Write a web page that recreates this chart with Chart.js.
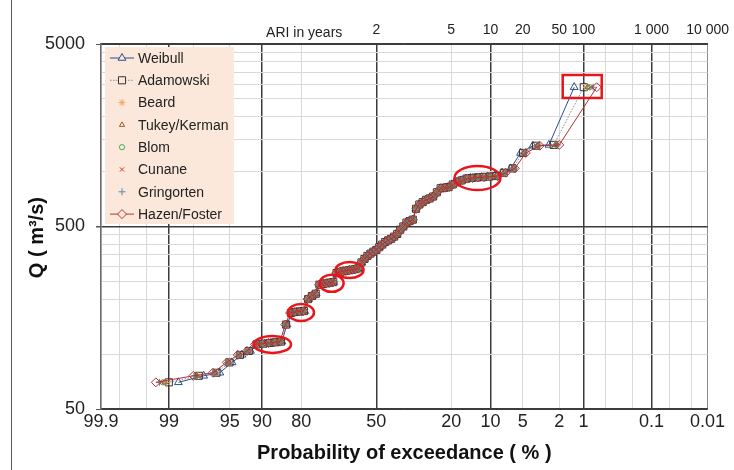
<!DOCTYPE html>
<html>
<head>
<meta charset="utf-8">
<script src="https://cdn.jsdelivr.net/npm/chart.js@4.4.1/dist/chart.umd.min.js"></script>
<style>
  html, body { margin: 0; padding: 0; background: #fff; }
  #wrap { width: 734px; height: 470px; }
</style>
</head>
<body>
<div id="wrap"><canvas id="chart" width="734" height="470"></canvas></div>
<script>
// Flood frequency plot: ranked annual peaks vs plotting position (normal probability paper)
const methodNames = ['Weibull', 'Adamowski', 'Beard', 'Tukey/Kerman', 'Blom', 'Cunane', 'Gringorten', 'Hazen/Foster'];
const plottingConst = [0, 0.25, 0.31, 1 / 3, 0.375, 0.4, 0.44, 0.5];

// ranked peak flows, largest first (m3/s)
const flowQ = [2900, 1400, 1385, 1265, 1040, 985, 945, 938, 932, 928,
               922, 915, 895, 877, 850, 822, 815, 810, 770, 730,
               712, 700, 680, 660, 625, 545, 535, 525, 500, 480,
               455, 440, 428, 420, 411, 398, 385, 372, 364, 355,
               345, 332, 318, 295, 292, 290, 288, 286, 284, 282,
               278, 248, 246, 244, 242, 240, 214, 208, 200, 172,
               171, 170, 168, 145, 117, 116, 115, 114, 113, 104,
               99, 90, 79, 76, 70];

const xGridPct = [99.9, 99.8, 99.5, 99, 98, 95, 90, 80, 50, 20, 10, 5, 2, 1, 0.5, 0.2, 0.1, 0.05, 0.02, 0.01];
const xLabelPct = [99.9, 99, 95, 90, 80, 50, 20, 10, 5, 2, 1, 0.1, 0.01];
const xMajorPct = [99, 90, 50, 10, 1, 0.1];
const ariYears = [2, 5, 10, 20, 50, 100, 1000, 10000];
const ariLabels = ['2', '5', '10', '20', '50', '100', '1 000', '10 000'];
const yGridQ = [50, 100, 150, 200, 250, 300, 350, 400, 450, 500,
                1000, 1500, 2000, 2500, 3000, 3500, 4000, 4500, 5000];
const yLabelQ = [50, 500, 5000];

// highlighted groups (exceedance %, Q)
const highlightEllipses = [
    { p: 87.8, q: 113 }, { p: 80.1, q: 169 }, { p: 69.2, q: 244 },
    { p: 61.8, q: 289 }, { p: 12.8, q: 922 }
];
const highlightBox = { p: 1.04, q: 2925 };

// --- styling ---
const ellipseRadii = [[18.5, 8.5], [13, 8.5], [12, 8.5], [14, 8], [23, 12]];
const boxHalf = [19.5, 11.5];
const darkGrid = '#3c3c3c';
const lightGrid = '#d9d9d9';
const seriesStyle = [
    { color: '#2B4C8C', point: 'triangle', r: 4.5, line: true, dash: [] },
    { color: '#333333', lineColor: '#8a8a8a', point: 'rect', r: 5, line: true, dash: [1.5, 1.5] },
    { color: '#EFA66A', point: 'star', r: 3.5 },
    { color: '#9C5B2A', point: 'triangle', r: 3 },
    { color: '#3FAE4F', point: 'circle', r: 2.6 },
    { color: '#E0302A', point: 'crossRot', r: 3 },
    { color: '#5A88A8', point: 'cross', r: 3.5 },
    { color: '#B5312C', point: 'rectRot', r: 4.5, line: true, dash: [] }
];

// inverse standard normal (Acklam)
function normInv(p) {
    const a = [-3.969683028665376e+01, 2.209460984245205e+02, -2.759285104469687e+02, 1.383577518672690e+02, -3.066479806614716e+01, 2.506628277459239e+00];
    const b = [-5.447609879822406e+01, 1.615858368580409e+02, -1.556989798598866e+02, 6.680131188771972e+01, -1.328068155288572e+01];
    const c = [-7.784894002430293e-03, -3.223964580411365e-01, -2.400758277161838e+00, -2.549732539343734e+00, 4.374664141464968e+00, 2.938163982698783e+00];
    const d = [7.784695709041462e-03, 3.224671290700398e-01, 2.445134137142996e+00, 3.754408661907416e+00];
    const pl = 0.02425;
    let q, r;
    if (p < pl) {
        q = Math.sqrt(-2 * Math.log(p));
        return (((((c[0] * q + c[1]) * q + c[2]) * q + c[3]) * q + c[4]) * q + c[5]) / ((((d[0] * q + d[1]) * q + d[2]) * q + d[3]) * q + 1);
    }
    if (p > 1 - pl) {
        q = Math.sqrt(-2 * Math.log(1 - p));
        return -(((((c[0] * q + c[1]) * q + c[2]) * q + c[3]) * q + c[4]) * q + c[5]) / ((((d[0] * q + d[1]) * q + d[2]) * q + d[3]) * q + 1);
    }
    q = p - 0.5; r = q * q;
    return (((((a[0] * r + a[1]) * r + a[2]) * r + a[3]) * r + a[4]) * r + a[5]) * q / (((((b[0] * r + b[1]) * r + b[2]) * r + b[3]) * r + b[4]) * r + 1);
}
// exceedance % -> position on probability paper (left = frequent)
const zOf = pct => normInv(1 - pct / 100);
const exceedPct = (rank, a) => (rank - a) / (flowQ.length + 1 - 2 * a) * 100;

const datasets = methodNames.map((name, m) => {
    const s = seriesStyle[m];
    return {
        label: name,
        data: flowQ.map((q, k) => ({ x: zOf(exceedPct(k + 1, plottingConst[m])), y: q })),
        order: methodNames.length - m, // later series drawn on top, like the spreadsheet
        showLine: !!s.line,
        borderColor: s.lineColor || s.color,
        borderWidth: 1,
        borderDash: s.dash || [],
        pointStyle: s.point,
        pointRadius: s.r,
        pointBorderColor: s.color,
        pointBackgroundColor: 'rgba(0,0,0,0)',
        pointBorderWidth: 1
    };
});

const overlayPlugin = {
    id: 'overlay',
    beforeDraw(chart) {
        const ctx = chart.ctx;
        ctx.save();
        ctx.fillStyle = '#fff';
        ctx.fillRect(0, 0, chart.width, chart.height);
        ctx.strokeStyle = '#555';
        ctx.lineWidth = 1;
        ctx.beginPath();
        ctx.moveTo(11.5, 0);
        ctx.lineTo(11.5, chart.height);
        ctx.stroke();
        ctx.restore();
    },
    afterDatasetsDraw(chart) {
        const ctx = chart.ctx;
        const xs = chart.scales.x, ys = chart.scales.y;
        ctx.save();
        ctx.strokeStyle = '#E8161B';
        ctx.lineWidth = 2.5;
        highlightEllipses.forEach((e, i) => {
            ctx.beginPath();
            ctx.ellipse(xs.getPixelForValue(zOf(e.p)), ys.getPixelForValue(e.q),
                ellipseRadii[i][0], ellipseRadii[i][1], 0, 0, Math.PI * 2);
            ctx.stroke();
        });
        const bx = xs.getPixelForValue(zOf(highlightBox.p));
        const by = ys.getPixelForValue(highlightBox.q);
        ctx.strokeRect(bx - boxHalf[0], by - boxHalf[1], boxHalf[0] * 2, boxHalf[1] * 2);

        // legend box inside plot
        const area = chart.chartArea;
        const lx = area.left + 4, ly = area.top + 3;
        ctx.fillStyle = '#FBE8DA';
        ctx.fillRect(lx, ly, 129, 177);
        ctx.font = '14px Arial, "Liberation Sans", sans-serif';
        ctx.textBaseline = 'middle';
        chart.data.datasets.forEach((ds, i) => {
            const y = ly + 11 + i * 22.3;
            const cx = lx + 17;
            if (ds.showLine) {
                ctx.save();
                ctx.strokeStyle = ds.borderColor;
                ctx.lineWidth = 1;
                ctx.setLineDash(ds.borderDash);
                ctx.beginPath();
                ctx.moveTo(lx + 5, y);
                ctx.lineTo(lx + 29, y);
                ctx.stroke();
                ctx.restore();
            }
            if (Chart.helpers && Chart.helpers.drawPoint) {
                ctx.save();
                ctx.strokeStyle = ds.pointBorderColor;
                ctx.fillStyle = '#FBE8DA';
                ctx.lineWidth = 1;
                Chart.helpers.drawPoint(ctx, { pointStyle: ds.pointStyle, radius: ds.pointRadius, rotation: 0, borderWidth: 1 }, cx, y);
                ctx.restore();
            }
            ctx.fillStyle = '#222';
            ctx.textAlign = 'left';
            ctx.fillText(ds.label, lx + 33, y + 1);
        });
        ctx.restore();
    },
    afterDraw(chart) {
        const ctx = chart.ctx;
        const x2 = chart.scales.x2;
        ctx.save();
        ctx.font = '14px Arial, "Liberation Sans", sans-serif';
        ctx.fillStyle = '#222';
        ctx.textAlign = 'right';
        ctx.textBaseline = 'middle';
        ctx.fillText('ARI in years', x2.getPixelForValue(zOf(100 / ariYears[0])) - 34, 33);
        ctx.restore();
    }
};

const fontFamily = 'Arial, "Liberation Sans", sans-serif';
const ctx = document.getElementById('chart').getContext('2d');
new Chart(ctx, {
    type: 'scatter',
    data: { datasets },
    options: {
        responsive: false,
        animation: false,
        devicePixelRatio: 1,
        layout: { padding: { left: 0, right: 24, top: 0, bottom: 0 } },
        plugins: { legend: { display: false }, tooltip: { enabled: false } },
        scales: {
            x: {
                type: 'linear',
                position: 'bottom',
                min: zOf(99.9),
                max: zOf(0.01),
                afterBuildTicks: s => { s.ticks = xGridPct.map(p => ({ value: zOf(p) })); },
                afterFit: s => { s.height = 61; },
                ticks: {
                    autoSkip: false,
                    maxRotation: 0,
                    padding: 2,
                    color: '#222',
                    font: { size: 18, family: fontFamily },
                    callback: (v, i) => xLabelPct.includes(xGridPct[i]) ? String(xGridPct[i]) : ''
                },
                grid: {
                    drawTicks: false,
                    color: c => {
                        const p = xGridPct[c.index];
                        if (p === 0.01) return '#8c8c8c';
                        return xMajorPct.includes(p) ? darkGrid : lightGrid;
                    },
                    lineWidth: c => xMajorPct.includes(xGridPct[c.index]) ? 1.5 : 1
                },
                border: { display: true, color: darkGrid, width: 1.5 },
                title: {
                    display: true,
                    text: 'Probability of exceedance ( % )',
                    color: '#111',
                    font: { size: 20, weight: 'bold', family: fontFamily },
                    padding: { top: 0, bottom: 5 }
                }
            },
            x2: {
                type: 'linear',
                position: 'top',
                min: zOf(99.9),
                max: zOf(0.01),
                afterBuildTicks: s => { s.ticks = ariYears.map(t => ({ value: zOf(100 / t) })); },
                afterFit: s => { s.height = 44; },
                ticks: {
                    autoSkip: false,
                    maxRotation: 0,
                    padding: 5,
                    color: '#222',
                    font: { size: 14, family: fontFamily },
                    callback: (v, i) => ariLabels[i]
                },
                grid: { drawOnChartArea: false, drawTicks: false },
                border: { display: true, color: darkGrid, width: 1.5 }
            },
            y: {
                type: 'logarithmic',
                min: 50,
                max: 5000,
                afterBuildTicks: s => { s.ticks = yGridQ.map(v => ({ value: v })); },
                afterFit: s => { s.width = 101; },
                ticks: {
                    autoSkip: false,
                    padding: 11,
                    color: '#222',
                    font: { size: 18, family: fontFamily },
                    callback: v => yLabelQ.includes(v) ? String(v) : ''
                },
                grid: {
                    tickLength: 5,
                    color: c => {
                        const v = yGridQ[c.index];
                        return yLabelQ.includes(v) ? darkGrid : lightGrid;
                    },
                    lineWidth: c => yGridQ[c.index] === 500 ? 1.5 : 1,
                    tickColor: c => yLabelQ.includes(yGridQ[c.index]) ? '#555' : 'rgba(0,0,0,0)'
                },
                border: { display: true, color: '#6a6a6a', width: 1.5 },
                title: {
                    display: true,
                    text: 'Q ( m³/s)    ',
                    color: '#111',
                    font: { size: 20, weight: 'bold', family: fontFamily },
                    padding: { top: 25, bottom: 0 }
                }
            }
        }
    },
    plugins: [overlayPlugin]
});
</script>
</body>
</html>
